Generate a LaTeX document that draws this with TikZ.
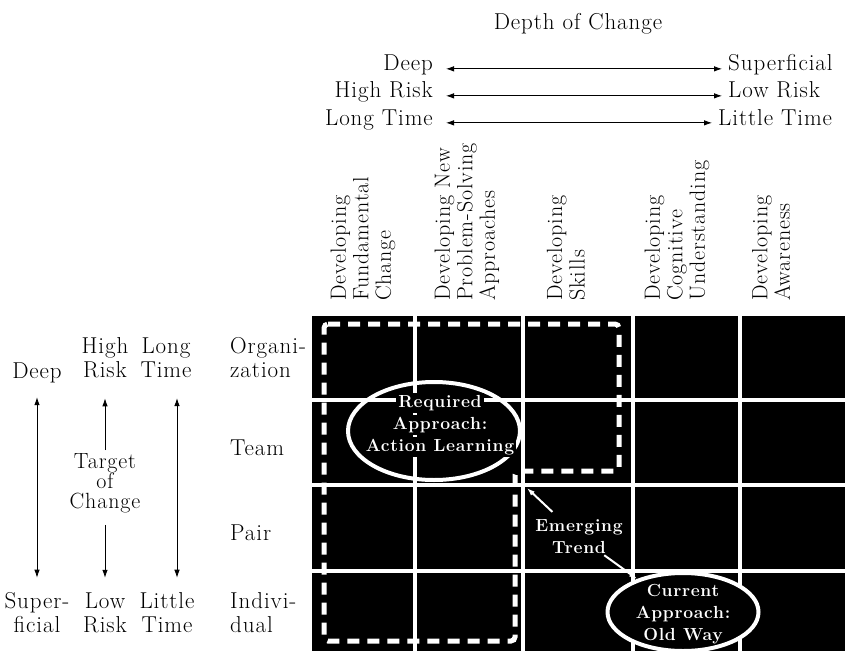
\documentclass[tikz,border=0pt]{standalone}
\usepackage{fontspec}
\setmainfont{Latin Modern Roman}[LetterSpace=4]
\usetikzlibrary{shapes.geometric,arrows.meta}

\newcommand{\blk}[1]{\colorbox{black}{#1}}
\setlength{\fboxsep}{2pt}

\tikzset{
  lbl/.style={font=\fontsize{23}{24}\selectfont, inner sep=0pt, align=center},
  lbltight/.style={font=\fontsize{22}{20}\selectfont},
  colhead/.style={font=\fontsize{22}{22.5}\selectfont,
    inner sep=0pt, align=left, rotate=90, anchor=west},
  boldtxt/.style={font=\bfseries\fontsize{17.5}{22}\selectfont, text=white, inner sep=1pt, align=center},
  ring/.style={ellipse, draw=white, line width=4pt, inner sep=0pt},
  gridline/.style={white, line width=4.5pt},
  dashbox/.style={white, line width=5pt, dash pattern=on 12pt off 8pt, rounded corners=4pt},
  wtip/.style={white, line width=2pt, ->},
  dimline/.style={line width=0.8pt},
}

\begin{document}
\begin{tikzpicture}[x=1pt, y=-1pt, >={Latex[length=8pt,width=5.5pt]}]
\useasboundingbox (0,0) rectangle (850,650);

% depth of change, across the top
\node[lbl] (title) at (578,24) {Depth of Change};
\node[lbl, anchor=base east] (deepT) at (433,71) {Deep};
\node[lbl, anchor=base east] (highT) at (433,98) {High Risk};
\node[lbl, anchor=base east] (longT) at (433,125) {Long Time};
\node[lbl, anchor=base west] (superT) at (728,71) {Superficial};
\node[lbl, anchor=base west] (lowT) at (728,98) {Low Risk};
\node[lbl, anchor=base west] (littleT) at (718,125) {Little Time};

\foreach \a/\b in {deepT/superT, highT/lowT, longT/littleT}
  \draw[dimline, <->, shorten <=13pt, shorten >=6pt] (\a.mid east) -- (\b.mid west);

% column heads
\node[colhead] (hdfund) at (363,301) {Developing\\Fundamental\\Change};
\node[colhead] (hdnew) at (467,301) {Developing New\\Problem-Solving\\Approaches};
\node[colhead] (hdskill) at (566,301) {Developing\\Skills};
\node[colhead] (hdcog) at (677,301) {Developing\\Cognitive\\Understanding};
\node[colhead] (hdaware) at (771,301) {Developing\\Awareness};

% target of change, down the left
\node[lbl, anchor=base] (deepL) at (37,378) {Deep};
\node[lbl] (highL) at (105,358) {High\\Risk};
\node[lbl] (longL) at (166,358) {Long\\Time};
\node[lbl, anchor=west, align=left] (orgL) at (230,358) {Organi-\\zation};
\node[lbl, anchor=base west] (teamL) at (230,455) {Team};
\node[lbl, anchor=base west] (pairL) at (230,540) {Pair};
\node[lbl, lbltight] (target) at (105,483) {Target\\of\\Change};
\node[lbl] (superL) at (37,613) {Super-\\ficial};
\node[lbl] (lowL) at (105,613) {Low\\Risk};
\node[lbl] (littleL) at (167,613) {Little\\Time};
\node[lbl, anchor=west, align=left] (indivL) at (230,613) {Indivi-\\dual};

\draw[dimline, <->, shorten <=14.5pt, shorten >=15pt] (deepL.south) -- (superL.north);
\draw[dimline, ->, shorten <=3pt, shorten >=20pt] (target.north) -- (highL.south);
\draw[dimline, ->, shorten <=12pt, shorten >=15pt] (target.south) -- (lowL.north);
\draw[dimline, <->, shorten <=20pt, shorten >=15pt]
  ([xshift=11pt]longL.south) -- ([xshift=10pt]littleL.north);

% the grid
\begin{scope}
\clip (0,0) rectangle (850,650);
\fill[black] (312,316) rectangle (845,655);
\foreach \cx in {415,523,633,740}
  \draw[gridline] (\cx,316) -- (\cx,655);
\foreach \ry in {400,485,571}
  \draw[gridline] (312,\ry) -- (845,\ry);

% where action learning works
\draw[dashbox] (324,324) -- (619,324) -- (619,471) -- (515,471)
  -- (515,641) -- (324,641) -- cycle;

\node[ring, minimum width=172pt, minimum height=98pt] (reqring) at (434,431) {};
\node[boldtxt, inner sep=0pt] (req) at (440,425)
  {\blk{Required}\\\blk{Approach:}\\\blk{Action Learning}};

\node[ring, fill=black, minimum width=151pt, minimum height=78pt] (curring) at (683,612) {};
\node[boldtxt] (cur) at (683,614) {Current\\Approach:\\Old Way};
\end{scope}

\node[boldtxt] (emerg) at (579,537) {Emerging\\Trend};
\coordinate (stepcorner) at (527,488);
\draw[wtip, shorten <=10pt] (emerg) -- (stepcorner);
\draw[wtip] (emerg) -- (curring);

\end{tikzpicture}
\end{document}
